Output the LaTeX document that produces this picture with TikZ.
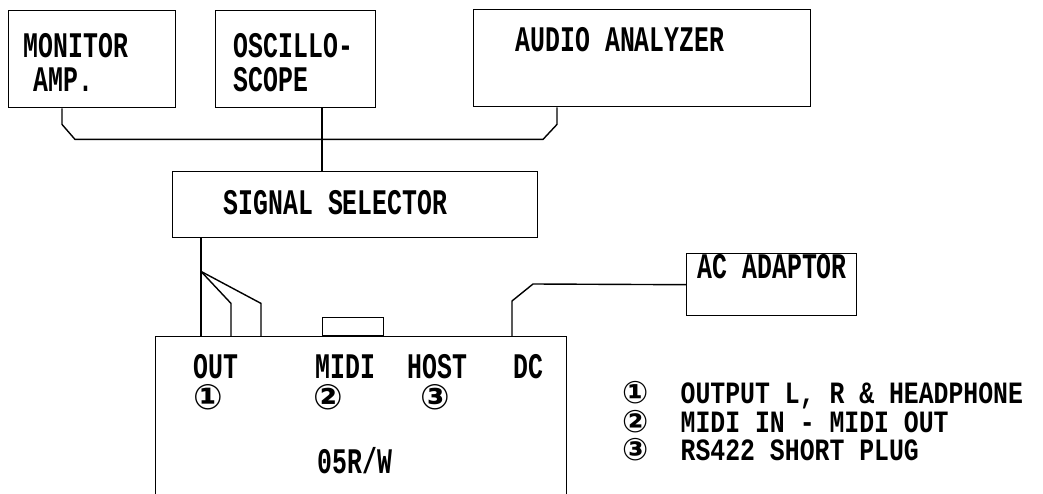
\documentclass[tikz,border=0pt]{standalone}
\usepackage{fontspec}
\usetikzlibrary{calc}
\newfontfamily\plotfont[FakeStretch=0.69]{Liberation Mono}
\newfontfamily\keyfont[FakeStretch=0.8]{Liberation Mono}
\newfontfamily\circfont{DejaVu Sans}
\newcommand{\keyno}[1]{\makebox[58pt][l]{\circfont\bfseries\fontsize{31}{28}\selectfont #1}}
\tikzset{box/.style={draw, anchor=north west, inner sep=0pt},
  lbl/.style={anchor=base west, inner sep=0pt, font=\plotfont\bfseries\fontsize{36}{30}\selectfont},
  key/.style={anchor=north west, align=left, inner sep=0pt, font=\keyfont\bfseries\fontsize{31}{28.5}\selectfont},
  circ/.style={anchor=center, inner sep=0pt, font=\circfont\bfseries\fontsize{35}{38}\selectfont}}

\begin{document}
\begin{tikzpicture}[x=1pt,y=-1pt,line width=1.4pt]
\useasboundingbox (0,0) rectangle (1043,494);
\node[box, minimum width=167pt, minimum height=97pt] (mon) at (8,10) {};
\node[box, minimum width=160pt, minimum height=97pt] (osc) at (215,10) {};
\node[box, minimum width=337pt, minimum height=97pt] (aud) at (473,9) {};
\node[box, minimum width=365pt, minimum height=66pt] (sel) at (172,171) {};
\node[box, minimum width=170pt, minimum height=62pt] (ac) at (686,253) {};
\node[box, minimum width=411pt, minimum height=170pt] (dev) at (155,336) {};
\node[box, anchor=south west, minimum width=61pt, minimum height=18pt] (midi) at ($(dev.north west)+(167,0)$) {};
\node[lbl] (montxt) at (23,58) {MONITOR};
\node[lbl] (amptxt) at (33,92) {AMP.};
\node[lbl] (osctxt) at (233,58) {OSCILLO-};
\node[lbl] (scptxt) at (233,92) {SCOPE};
\node[lbl] (audtxt) at (515,52) {AUDIO ANALYZER};
\node[lbl] (seltxt) at (223,215) {SIGNAL SELECTOR};
\node[lbl] (actxt) at (697,278) {AC ADAPTOR};
\node[lbl] (outtxt) at (193,378) {OUT};
\node[lbl] (miditxt) at (315,378) {MIDI};
\node[lbl] (hosttxt) at (407,378) {HOST};
\node[lbl] (dctxt) at (513,378) {DC};
\node[circ] (c1) at (208,397) {①};
\node[circ] (c2) at (328,397) {②};
\node[circ] (c3) at (435,397) {③};
\node[lbl] (devtxt) at (317,473) {05R/W};
\node[key] (keytxt) at (622,381)
  {\keyno{①}OUTPUT L, R \& HEADPHONE\\ \keyno{②}MIDI IN - MIDI OUT\\ \keyno{③}RS422 SHORT PLUG};
\draw ($(mon.south west)+(54,0)$) -- ++(0,16) -- ++(13,15) -- ++(468,0) -- ++(14,-15) -- ($(aud.south west)+(84,0)$);
\draw ($(osc.south west)+(107,0)$) -- ($(sel.north west)+(150,0)$);
\draw ($(sel.south west)+(29,0)$) -- ($(dev.north west)+(46,0)$);
\coordinate (split) at ($(sel.south west)+(29,33)$);
\draw (split) -- ++(30,32) -- ($(dev.north west)+(76,0)$);
\draw (split) -- ++(60,32) -- ($(dev.north west)+(106,0)$);
\draw ($(dev.north west)+(357,0)$) -- ++(0,-35) -- ++(21,-17) -- (ac.west);
\end{tikzpicture}
\end{document}
